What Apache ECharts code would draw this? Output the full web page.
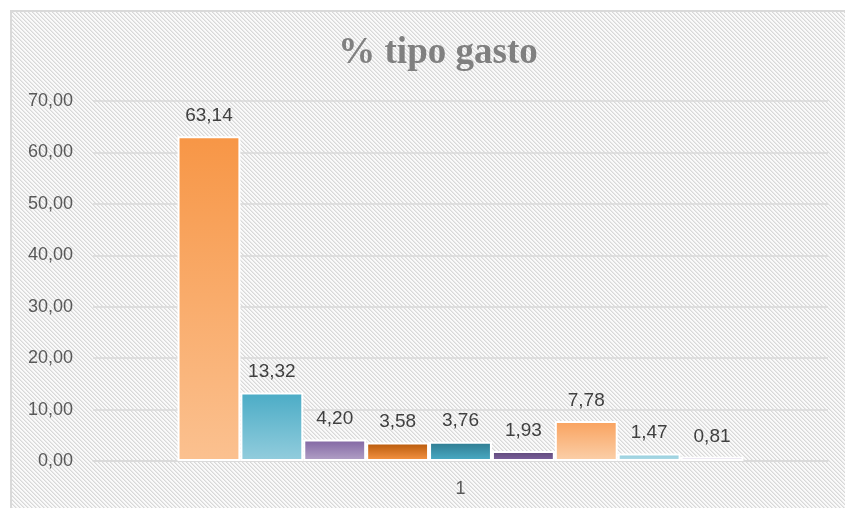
<!DOCTYPE html>
<html>
<head>
<meta charset="utf-8">
<script src="https://cdn.jsdelivr.net/npm/echarts@6/dist/echarts.min.js"></script>
<style>
  html, body { margin: 0; padding: 0; background: #ffffff; width: 845px; height: 508px; overflow: hidden; }
  #bg { position: absolute; left: 10px; top: 10px; width: 835px; height: 498px; border-left: 2px solid #D9D9D9; border-top: 2px solid #D9D9D9; }
  #chart { position: absolute; left: 0; top: 0; width: 845px; height: 508px; }
</style>
</head>
<body>
<div id="bg"></div>
<div id="chart"></div>
<script>
// ---- data ----
var categories = ['1'];
var seriesNames = ['Tipo 1', 'Tipo 2', 'Tipo 3', 'Tipo 4', 'Tipo 5', 'Tipo 6', 'Tipo 7', 'Tipo 8', 'Tipo 9'];
var seriesValues = [63.14, 13.32, 4.20, 3.58, 3.76, 1.93, 7.78, 1.47, 0.81];
var yTicks = [0, 10, 20, 30, 40, 50, 60, 70];
var titleText = '% tipo gasto';

// ---- styling ----
var gradients = [
  ['#F79646', '#FBC190'],
  ['#4BACC6', '#93CDDD'],
  ['#8064A2', '#B3A2C7'],
  ['#B65708', '#F79646'],
  ['#2E7A8F', '#4BACC6'],
  ['#5C4776', '#8064A2'],
  ['#F9A25E', '#FBD0AA'],
  ['#8FCBDB', '#B4DDE8'],
  ['#A895C0', '#C3B6D6']
];

// hatched background
(function () {
  var c = document.createElement('canvas');
  c.width = 4; c.height = 4;
  var ctx = c.getContext('2d');
  ctx.fillStyle = '#FAFAFA';
  ctx.fillRect(0, 0, 4, 4);
  for (var i = 0; i < 4; i++) {
    ctx.fillStyle = '#D8D8D8';
    ctx.fillRect(i, i, 1, 1);
    ctx.fillStyle = '#E9E9E9';
    ctx.fillRect((i + 1) % 4, i, 1, 1);
  }
  document.getElementById('bg').style.backgroundImage = 'url(' + c.toDataURL() + ')';
})();

function fmt(v) { return Number(v).toFixed(2).replace('.', ','); }

var series = seriesValues.map(function (v, i) {
  return {
    name: seriesNames[i],
    type: 'bar',
    data: [v],
    barGap: '0%',
    barCategoryGap: '23%',
    itemStyle: {
      color: new echarts.graphic.LinearGradient(0, 0, 0, 1, [
        { offset: 0, color: gradients[i][0] },
        { offset: 1, color: gradients[i][1] }
      ]),
      borderColor: '#FFFFFF',
      borderWidth: 2
    },
    label: {
      show: true,
      position: 'top',
      distance: 11,
      color: '#404040',
      fontFamily: 'Liberation Sans',
      fontSize: 19,
      formatter: function (p) { return fmt(p.value); }
    }
  };
});

var chart = echarts.init(document.getElementById('chart'), null, { renderer: 'canvas' });
chart.setOption({
  backgroundColor: 'transparent',
  animation: false,
  title: {
    text: titleText,
    left: 433,
    textAlign: 'center',
    top: 30,
    textStyle: {
      fontFamily: 'Liberation Serif',
      fontWeight: 'bold',
      fontSize: 37,
      color: '#808080'
    }
  },
  grid: { left: 93, right: 17, top: 101, bottom: 47, containLabel: false },
  xAxis: {
    type: 'category',
    data: categories,
    axisLine: { show: true, lineStyle: { color: '#D9D9D9', width: 1.5 } },
    axisTick: { show: false },
    axisLabel: { color: '#595959', fontFamily: 'Liberation Sans', fontSize: 18, margin: 19 }
  },
  yAxis: {
    type: 'value',
    min: yTicks[0],
    max: yTicks[yTicks.length - 1],
    interval: yTicks[1] - yTicks[0],
    axisLine: { show: false },
    axisTick: { show: false },
    splitLine: { show: true, lineStyle: { color: '#D9D9D9', width: 1.5 } },
    axisLabel: {
      color: '#595959', fontFamily: 'Liberation Sans', fontSize: 18, margin: 20,
      formatter: function (v) { return fmt(v); }
    }
  },
  series: series
});
</script>
</body>
</html>
